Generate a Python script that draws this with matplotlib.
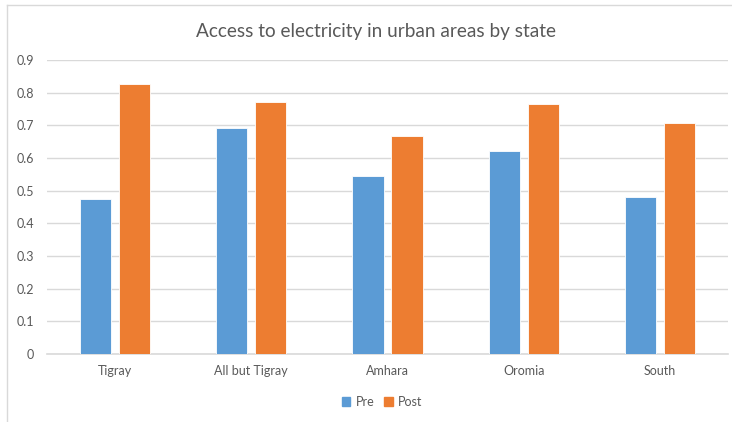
import numpy as np
import matplotlib.pyplot as plt
from matplotlib.lines import Line2D
from matplotlib.patches import Patch

states = ["Tigray", "All but Tigray", "Amhara", "Oromia", "South"]
pre = [0.475, 0.693, 0.544, 0.620, 0.480]
post = [0.828, 0.770, 0.666, 0.766, 0.707]
yticks = [0, 0.1, 0.2, 0.3, 0.4, 0.5, 0.6, 0.7, 0.8, 0.9]

blue = "#5b9bd5"
orange = "#ed7d31"
grid = "#d9d9d9"
text = "#595959"

plt.rcParams["font.family"] = ["Lato", "DejaVu Sans"]

fig = plt.figure(figsize=(7.32, 4.22), dpi=100)
ax = fig.add_axes([47 / 732, 1 - 354 / 422, (728 - 47) / 732, (354 - 60) / 422])

x = np.arange(len(states))
w = 0.23
ax.bar(x - 0.143, pre, w, color=blue, edgecolor="white", linewidth=0.6, zorder=3, label="Pre")
ax.bar(x + 0.143, post, w, color=orange, edgecolor="white", linewidth=0.6, zorder=3, label="Post")

ax.set_xlim(-0.5, len(states) - 0.5)
ax.set_ylim(0, 0.9)
ax.set_yticks(yticks)
ax.set_yticklabels(["0"] + [f"{v:.1f}" for v in yticks[1:]])
ax.set_xticks(x)
ax.set_xticklabels(states)
ax.yaxis.grid(True, color=grid, linewidth=1, zorder=0)
ax.tick_params(length=0, colors=text, labelsize=9)
ax.tick_params(axis="y", pad=9.5)
ax.tick_params(axis="x", pad=8)
for s in ["top", "right", "left"]:
    ax.spines[s].set_visible(False)
ax.spines["bottom"].set_color(grid)
ax.spines["bottom"].set_linewidth(1.2)

fig.text(376 / 732, 1 - 31 / 422, "Access to electricity in urban areas by state",
         ha="center", va="center", fontsize=13.7, color=text)

handles = [Patch(color=blue, label="Pre"), Patch(color=orange, label="Post")]
fig.legend(handles=handles, loc="center", bbox_to_anchor=(382 / 732, 1 - 402 / 422),
           ncol=2, frameon=False, fontsize=9, handlelength=0.7, handleheight=0.7,
           handletextpad=0.4, columnspacing=0.8, labelcolor=text)

# chart border (left and top visible)
fig.add_artist(Line2D([7 / 732, 7 / 732], [0, 1 - 5 / 422], transform=fig.transFigure, color=grid, lw=1))
fig.add_artist(Line2D([7 / 732, 1], [1 - 5 / 422, 1 - 5 / 422], transform=fig.transFigure, color=grid, lw=1))

fig.savefig("out.png", dpi=100)
